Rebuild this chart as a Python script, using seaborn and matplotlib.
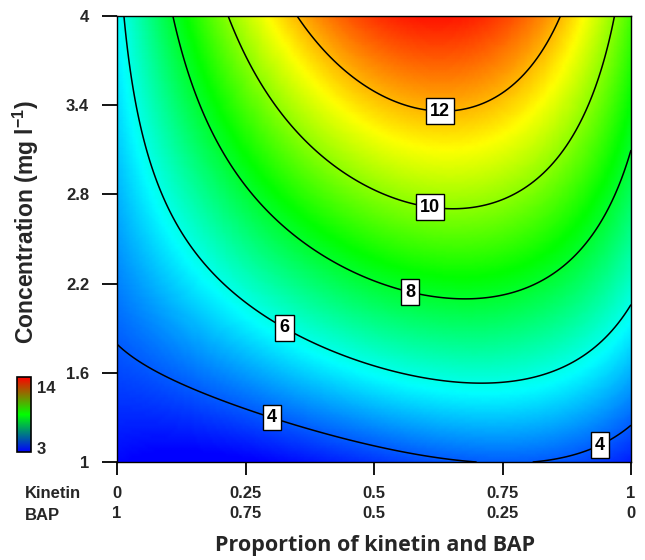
import numpy as np
import matplotlib
matplotlib.use("Agg")
import matplotlib.pyplot as plt
import seaborn as sns

# points: kinetin proportion, concentration, level
pts_x = np.array([0.35, 0.453, 0.628, 0.809, 0.864,
                  0.216, 0.304, 0.453, 0.609, 0.803, 0.920, 0.969,
                  0.109, 0.158, 0.453, 0.57, 0.687, 0.803, 1.0,
                  0.012, 0.039, 0.117, 0.161, 0.226, 0.327, 0.70, 0.803, 0.875, 0.973, 1.0,
                  0.0, 0.08, 0.161, 0.30, 0.42, 0.55, 0.70, 0.875, 0.94, 1.0])
pts_c = np.array([4.0, 3.59, 3.38, 3.66, 4.0,
                  4.0, 3.435, 2.93, 2.71, 2.877, 3.435, 4.0,
                  4.0, 3.435, 2.29, 2.14, 2.10, 2.177, 3.15,
                  4.0, 3.43, 2.54, 2.36, 2.14, 1.91, 1.525, 1.565, 1.64, 1.87, 2.07,
                  1.81, 1.63, 1.46, 1.28, 1.195, 1.07, 1.0, 1.05, 1.114, 1.26])
pts_z = np.array([12]*5 + [10]*7 + [8]*7 + [6]*11 + [4]*10, dtype=float)

levels = [4, 6, 8, 10, 12]
label_pos = [(0.628, 3.38), (0.609, 2.71), (0.57, 2.14), (0.327, 1.91),
             (0.30, 1.28), (0.94, 1.114)]
x_ticks = [0, 0.25, 0.5, 0.75, 1]
kinetin_lab = ["0", "0.25", "0.5", "0.75", "1"]
bap_lab = ["1", "0.75", "0.5", "0.25", "0"]
y_ticks = [1, 1.6, 2.2, 2.8, 3.4, 4]
y_lab = ["1", "1.6", "2.2", "2.8", "3.4", "4"]
z_min, z_max = 3, 14


def terms(x, c):
    return np.stack([np.ones_like(x), x, x**2, x**3, c, c**2,
                     x*c, x**2*c, x*c**2, x**2*c**2], axis=-1)


# response surface fitted through the read contour points
coef, *_ = np.linalg.lstsq(terms(pts_x, pts_c), pts_z, rcond=None)
xx, cc = np.meshgrid(np.linspace(0, 1, 160), np.linspace(1, 4, 160))
zz = terms(xx, cc) @ coef

sns.set_theme(style="ticks")
plt.rcParams['font.family'] = ['Liberation Sans', 'DejaVu Sans']
plt.rcParams['axes.edgecolor'] = 'black'
plt.rcParams['mathtext.fontset'] = 'custom'
plt.rcParams['mathtext.rm'] = 'Liberation Sans'
plt.rcParams['mathtext.bf'] = 'Liberation Sans:bold'

surf_cmap = sns.blend_palette(["blue", "cyan", "lime", "yellow", "red"], as_cmap=True)
bar_cmap = sns.blend_palette(["blue", "lime", "red"], as_cmap=True)

fig = plt.figure(figsize=(6.45, 5.6), dpi=100)
ax = fig.add_axes([117/645, 98/560, 514/645, 446/560])

ax.pcolormesh(xx, cc, zz, cmap=surf_cmap, vmin=z_min, vmax=z_max, shading='gouraud')
cs = ax.contour(xx, cc, zz, levels=levels, colors='black', linewidths=1.1)
txts = ax.clabel(cs, inline=False, fmt='%d', manual=label_pos, fontsize=13)
for t in txts:
    t.set_rotation(0)
    t.set_fontweight('bold')
    t.set_color('black')
    t.set_bbox(dict(facecolor='white', edgecolor='black', linewidth=1, pad=3))
    t.set_zorder(5)

ax.set_xlim(0, 1)
ax.set_ylim(1, 4)
ax.set_yticks(y_ticks)
ax.set_yticklabels(y_lab, fontsize=12, fontweight='bold')
ax.set_xticks(x_ticks)
ax.set_xticklabels([k + "\n" + b for k, b in zip(kinetin_lab, bap_lab)],
                   fontsize=12, fontweight='bold', linespacing=1.45)
ax.tick_params(axis='y', length=11, width=1.3, pad=9, color='black')
ax.tick_params(axis='x', length=9, width=1.3, pad=8, color='black')
for s in ax.spines.values():
    s.set_linewidth(1.0)

ax.set_ylabel("Concentration (mg l$^{\\mathbf{-1}}$)", fontsize=16.5, fontweight='bold')
ax.yaxis.set_label_coords(-0.148, 0.538)
ax.set_xlabel("Proportion of kinetin and BAP", fontsize=15.5, fontweight='bold',
              family=['Open Sans', 'DejaVu Sans'])
ax.xaxis.set_label_coords(0.502, -0.163)

fig.text(25/645, 1 - 493/560, "Kinetin", fontsize=12, fontweight='bold', va='center')
fig.text(25/645, 1 - 515/560, "BAP", fontsize=12, fontweight='bold', va='center')

# small colour key
cax = fig.add_axes([17/645, 108/560, 14/645, 75/560])
sm = plt.cm.ScalarMappable(cmap=bar_cmap, norm=plt.Normalize(z_min, z_max))
cb = fig.colorbar(sm, cax=cax)
cb.set_ticks([3.6, 12.6])
cb.set_ticklabels(["3", "14"])
cb.ax.tick_params(length=0, labelsize=12, pad=4)
for t in cb.ax.get_yticklabels():
    t.set_fontweight('bold')
cb.outline.set_linewidth(1.2)

fig.savefig("out.png", dpi=100)
